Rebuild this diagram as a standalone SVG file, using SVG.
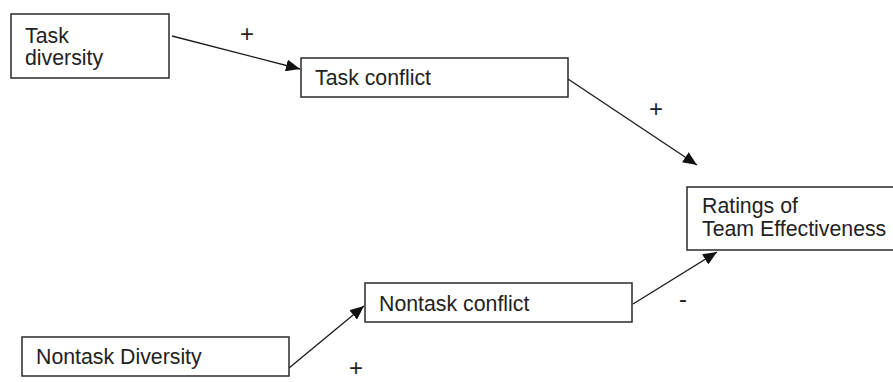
<svg xmlns="http://www.w3.org/2000/svg" width="893" height="382" viewBox="0 0 893 382">
<style>
.box{fill:#fff;stroke:#2a2a2a;stroke-width:1.5}
.lbl{font-family:"Liberation Sans",Arial,sans-serif;font-size:21.3px;fill:#222}
.sign{font-family:"Liberation Sans",Arial,sans-serif;font-size:24px;fill:#222;text-anchor:middle}
.edge{stroke:#1a1a1a;stroke-width:1.3;fill:none;marker-end:url(#arr)}
</style>
<defs>
<marker id="arr" markerUnits="userSpaceOnUse" markerWidth="14" markerHeight="12" viewBox="0 0 14 12" refX="14" refY="6" orient="auto">
<path d="M0,0 L14,6 L0,12 Z" fill="#111"/>
</marker>
</defs>
<rect width="893" height="382" fill="#fff"/>
<g id="connectors">
<line class="edge" x1="172" y1="36" x2="300" y2="69"/>
<line class="edge" x1="568" y1="79" x2="697" y2="165"/>
<line class="edge" x1="289" y1="368" x2="364" y2="306"/>
<line class="edge" x1="633" y1="304" x2="717" y2="252"/>
<text class="sign" x="247" y="41.5">+</text>
<text class="sign" x="656" y="116.5">+</text>
<text class="sign" x="356" y="376">+</text>
<text class="sign" x="683" y="306.5">-</text>
</g>
<g id="task-diversity">
<rect class="box" x="11" y="14" width="158" height="64"/>
<text class="lbl" x="25" y="43">Task</text>
<text class="lbl" x="25" y="65">diversity</text>
</g>
<g id="task-conflict">
<rect class="box" x="301" y="58" width="267" height="39"/>
<text class="lbl" x="315" y="85">Task conflict</text>
</g>
<g id="ratings">
<rect class="box" x="687" y="187" width="260" height="63"/>
<text class="lbl" x="702" y="213">Ratings of</text>
<text class="lbl" x="702" y="236">Team Effectiveness</text>
</g>
<g id="nontask-conflict">
<rect class="box" x="365" y="283" width="267" height="39"/>
<text class="lbl" x="379" y="311">Nontask conflict</text>
</g>
<g id="nontask-diversity">
<rect class="box" x="22" y="337" width="267" height="39"/>
<text class="lbl" x="36" y="364">Nontask Diversity</text>
</g>
</svg>
